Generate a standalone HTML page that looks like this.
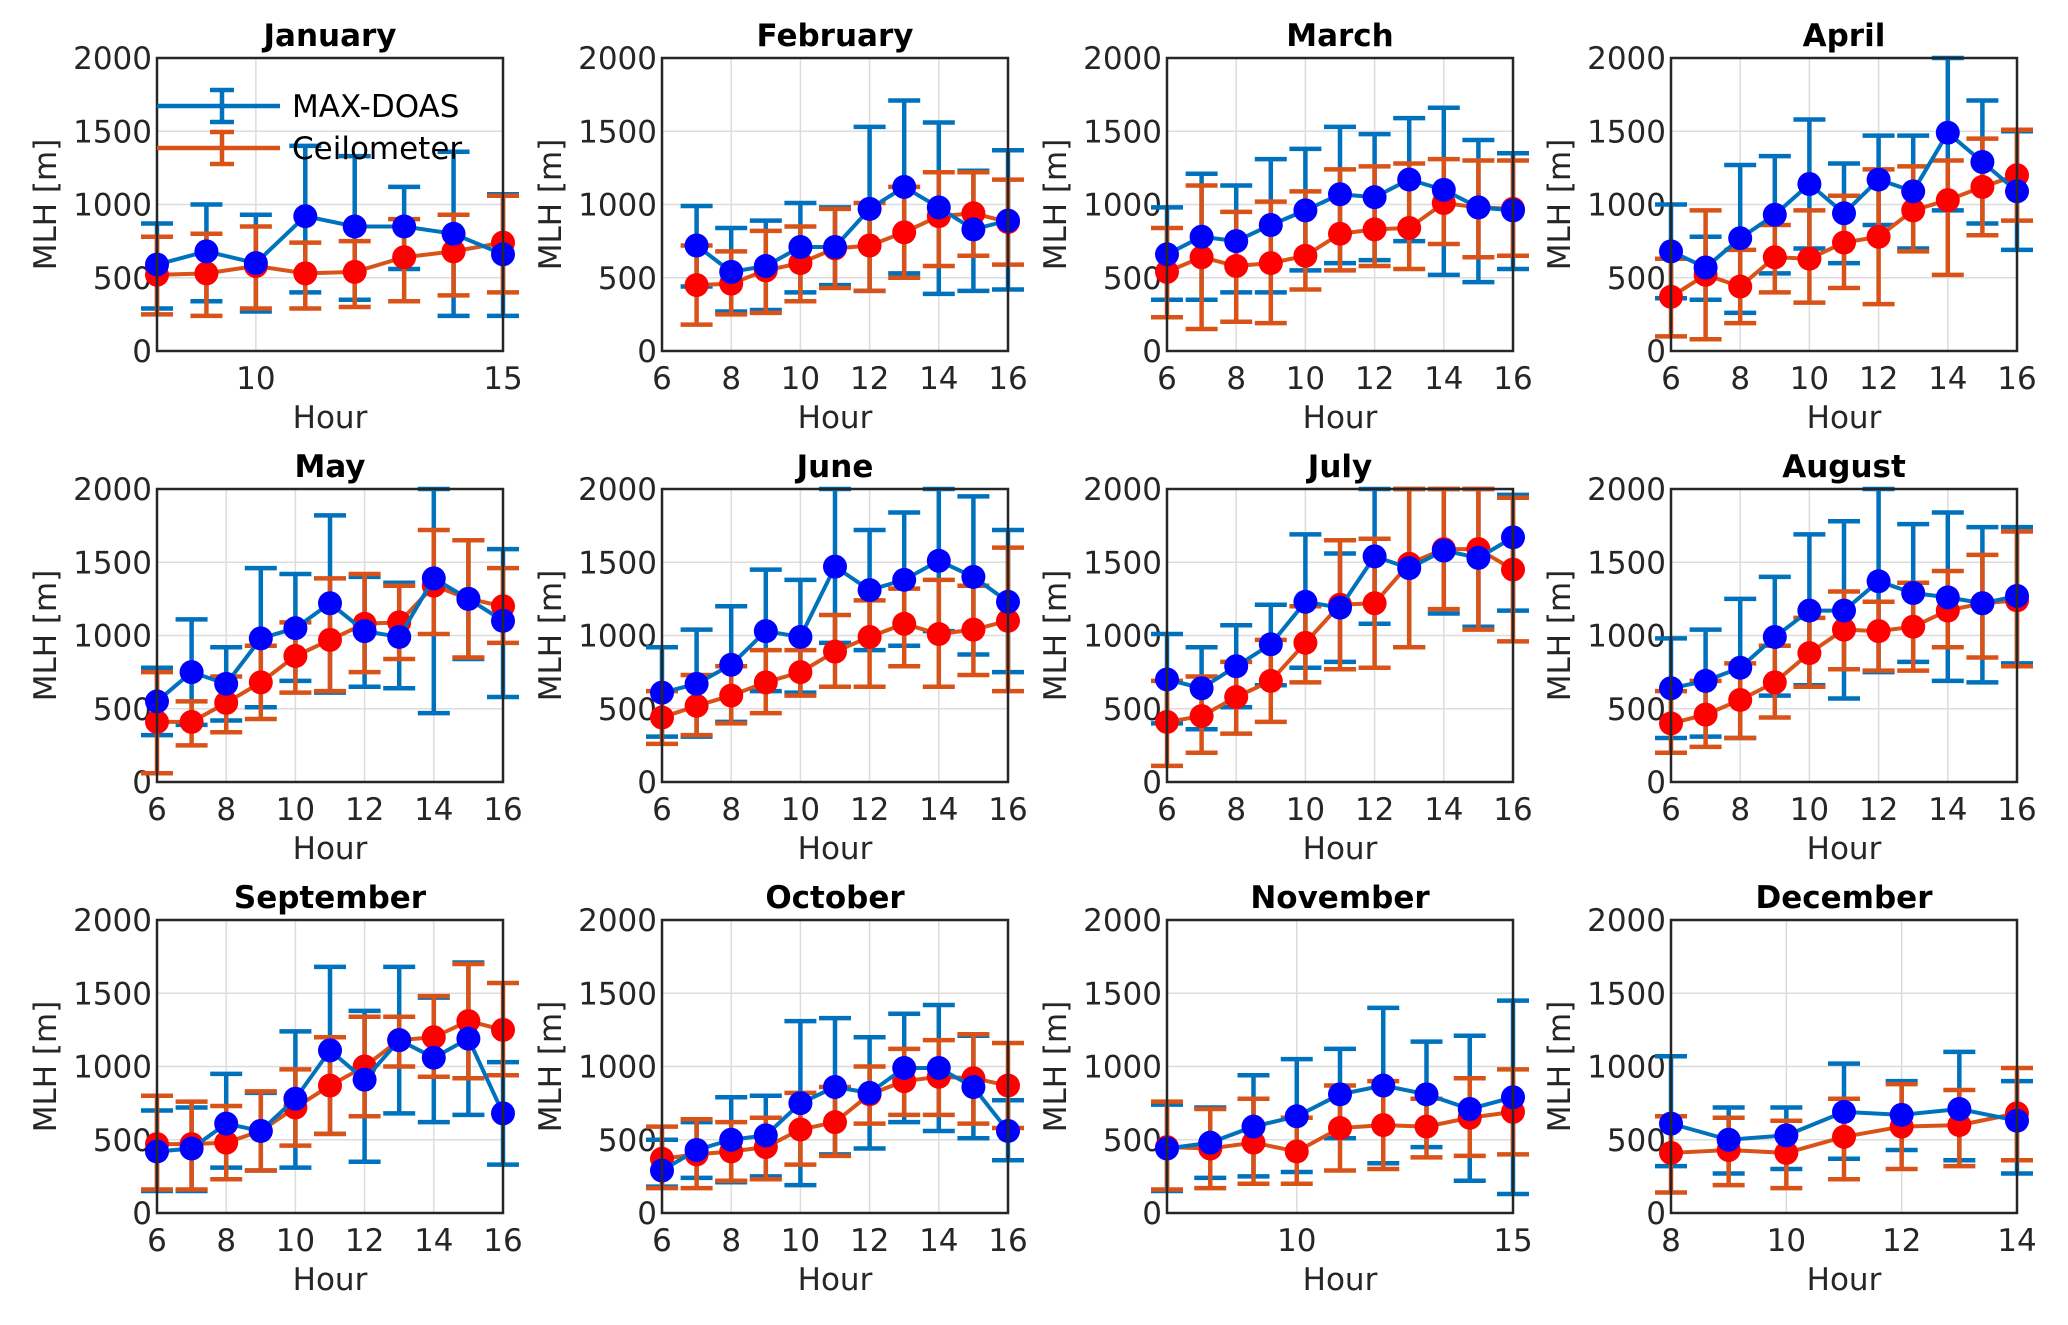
<!DOCTYPE html>
<html><head><meta charset="utf-8"><style>
html,body{margin:0;padding:0;background:#fff}
svg text{font-family:"DejaVu Sans","Liberation Sans",sans-serif;fill:#262626}
</style></head><body>
<svg id="fig" width="2068" height="1320" viewBox="0 0 2068 1320" xmlns="http://www.w3.org/2000/svg"></svg>
<script>
const months=["January","February","March","April","May","June","July","August","September","October","November","December"];
const xRanges=[[8,15],[6,16],[6,16],[6,16],[6,16],[6,16],[6,16],[6,16],[6,16],[6,16],[7,15],[8,14]];
const xTickSets=[[10,15],[6,8,10,12,14,16],[6,8,10,12,14,16],[6,8,10,12,14,16],[6,8,10,12,14,16],[6,8,10,12,14,16],[6,8,10,12,14,16],[6,8,10,12,14,16],[6,8,10,12,14,16],[6,8,10,12,14,16],[10,15],[8,10,12,14]];
const hourStart=[8,7,6,6,6,6,6,6,6,6,7,8];
const yTicks=[0,500,1000,1500,2000];
const maxVal=[[590,680,600,920,850,850,800,660],[720,540,580,710,710,970,1120,980,830,890],[660,780,750,860,960,1070,1050,1170,1100,980,960],[680,570,770,930,1140,940,1170,1090,1490,1290,1090],[550,750,670,980,1050,1220,1030,990,1390,1250,1100],[610,670,800,1030,990,1470,1310,1380,1510,1400,1230],[700,640,790,940,1230,1190,1540,1460,1580,1530,1670],[640,690,780,990,1170,1170,1370,1290,1260,1220,1270],[420,440,610,560,780,1110,910,1180,1060,1190,680],[290,430,500,530,750,860,820,990,990,860,560],[440,480,590,660,810,870,810,710,790],[610,500,530,690,670,710,630]];
const maxUp=[[870,1000,930,1400,1330,1120,1360,1070],[990,840,890,1010,980,1530,1710,1560,1230,1370],[980,1210,1130,1310,1380,1530,1480,1590,1660,1440,1350],[1000,780,1270,1330,1580,1280,1470,1470,2000,1710,1500],[780,1110,920,1460,1420,1820,1400,1360,2000,1650,1590],[920,1040,1200,1450,1380,2000,1720,1840,2000,1950,1720],[1010,920,1070,1210,1690,1560,2000,2000,2000,2000,1960],[980,1040,1250,1400,1690,1780,2000,1760,1840,1740,1740],[700,720,950,820,1240,1680,1380,1680,1470,1710,1030],[500,620,790,800,1310,1330,1200,1360,1420,1210,770],[740,720,940,1050,1120,1400,1170,1210,1450],[1070,720,720,1020,900,1100,900]];
const maxLow=[[290,340,270,400,350,560,240,240],[440,270,280,400,450,410,530,390,410,420],[350,350,400,400,550,600,620,750,520,470,560],[360,350,260,530,700,600,860,700,960,870,690],[320,390,420,510,690,610,650,640,470,840,580],[310,310,410,620,610,950,900,930,1030,870,750],[400,360,510,660,780,820,1080,920,1150,1060,1170],[300,310,300,590,660,570,750,820,690,680,810],[150,150,310,290,310,540,350,680,620,670,330],[180,240,210,250,190,400,440,620,560,510,360],[150,240,250,280,510,340,450,220,130],[320,270,300,370,430,360,270]];
const ceilVal=[[520,530,580,530,540,640,680,740],[450,460,550,600,700,720,810,920,940,880],[540,640,580,600,650,800,830,840,1010,980,970],[370,520,440,640,630,740,780,960,1030,1120,1200],[410,410,540,680,860,970,1080,1090,1340,1250,1200],[440,520,590,680,750,890,990,1080,1010,1040,1100],[410,450,580,690,950,1210,1220,1490,1590,1590,1450],[400,460,560,680,880,1040,1030,1060,1170,1220,1240],[470,470,480,560,720,870,1000,1180,1200,1310,1250],[370,400,420,450,570,620,810,900,930,920,870],[450,440,480,420,580,600,590,650,690],[410,430,410,520,590,600,680]];
const ceilUp=[[780,800,850,740,750,900,930,1060],[720,680,820,850,970,1010,1120,1220,1220,1170],[840,1130,950,1020,1090,1240,1260,1280,1310,1300,1300],[630,960,690,860,960,1060,1240,1260,1300,1450,1510],[750,550,720,930,1090,1390,1420,1340,1720,1650,1460],[620,730,790,900,900,1140,1240,1320,1380,1340,1600],[690,720,820,970,1200,1650,1660,2000,2000,2000,1940],[620,690,810,930,1120,1300,1230,1360,1440,1550,1710],[800,760,730,830,980,1200,1340,1340,1480,1700,1570],[590,640,620,650,820,860,1000,1120,1180,1220,1160],[760,710,780,650,870,900,780,920,980],[660,650,630,780,880,840,990]];
const ceilLow=[[250,240,290,290,300,340,380,400],[180,250,260,340,430,410,500,580,650,590],[230,150,200,190,420,550,580,560,730,640,650],[100,80,190,400,330,430,320,680,520,790,890],[60,250,340,430,610,620,750,840,1010,850,950],[260,320,400,470,590,650,650,790,650,730,620],[110,200,330,410,680,770,780,920,1180,1040,960],[200,240,300,440,650,770,760,760,920,850,790],[160,160,230,290,460,540,660,1000,930,920,940],[170,170,220,230,330,390,610,670,670,610,580],[160,170,200,200,290,300,380,390,400],[140,190,170,230,300,320,360]];

const NS="http://www.w3.org/2000/svg";
const svg=document.getElementById('fig');
const colL=[157,662,1167,1671], colW=346, rowT=[58,489,920], rowH=293;
function mk(tag,attrs,parent){const e=document.createElementNS(NS,tag);for(const k in attrs)e.setAttribute(k,attrs[k]);(parent||svg).appendChild(e);return e;}
months.forEach((m,i)=>{
  const L=colL[i%4], T=rowT[Math.floor(i/4)], R=L+colW, B=T+rowH;
  const [x0,x1]=xRanges[i];
  const xs=v=>L+(v-x0)/(x1-x0)*colW;
  const ys=v=>B-v/2000*rowH;
  const g=mk('g',{});
  
  
  mk('rect',{x:L,y:T,width:colW,height:rowH,fill:'#fff'},g);
  yTicks.forEach(v=>{
    const l=mk('line',{x1:L,x2:R,y1:ys(v),y2:ys(v),stroke:'#dcdcdc','stroke-width':1.5},g);
    
    
    const t=mk('text',{x:L-5,y:ys(v)+11,'text-anchor':'end','font-size':31},g);
    t.textContent=v;
    
    
  });
  xTickSets[i].forEach(v=>{
    const l=mk('line',{x1:xs(v),x2:xs(v),y1:T,y2:B,stroke:'#dcdcdc','stroke-width':1.5},g);
    
    
    const t=mk('text',{x:xs(v),y:B+38,'text-anchor':'middle','font-size':31},g);
    t.textContent=v;
    
    
  });
  const ttl=mk('text',{x:(L+R)/2,y:T-12,'text-anchor':'middle','font-size':31,'font-weight':'bold'},g);
  ttl.textContent=m;ttl.style.fill='#000';
  
  
  const xl=mk('text',{x:(L+R)/2,y:B+77,'text-anchor':'middle','font-size':31},g);
  xl.textContent='Hour';
  
  
  const yl=mk('text',{x:0,y:0,'text-anchor':'middle','font-size':31,transform:`translate(${L-101},${(T+B)/2}) rotate(-90)`},g);
  yl.textContent='MLH [m]';
  
  
  const series=[[maxVal[i],maxUp[i],maxLow[i],'#0072BD','#0000FF','max-doas'],[ceilVal[i],ceilUp[i],ceilLow[i],'#D95319','#FF0000','ceilometer']];
  const cl=mk('g',{},g);
  series.forEach(([vals,up,low,lc,mc,nm])=>{
    vals.forEach((v,k)=>{
      const h=hourStart[i]+k, x=xs(h);
      const e=mk('path',{d:`M${x},${ys(low[k])}V${ys(up[k])}M${x-16},${ys(low[k])}H${x+16}M${x-16},${ys(up[k])}H${x+16}`,stroke:lc,'stroke-width':4.5,fill:'none'},cl);
      
      
    });
  });
  series.slice().reverse().forEach(([vals,up,low,lc,mc,nm])=>{
    const pts=vals.map((v,k)=>xs(hourStart[i]+k)+','+ys(v)).join(' ');
    const pl=mk('polyline',{points:pts,fill:'none',stroke:lc,'stroke-width':4},cl);
    
    
    vals.forEach((v,k)=>{
      const c=mk('circle',{cx:xs(hourStart[i]+k),cy:ys(v),r:12,fill:mc},cl);
      
      
    });
  });
  const fr=mk('rect',{x:L,y:T,width:colW,height:rowH,fill:'none',stroke:'#262626','stroke-width':2.5},g);
  
  
});
const lg=mk('g',{});


[['MAX-DOAS','#0072BD',106],['Ceilometer','#D95319',148]].forEach(([t,c,y])=>{
  const p=mk('path',{d:`M157,${y}H280M222,${y-16}V${y+16}M210,${y-16}H234M210,${y+16}H234`,stroke:c,'stroke-width':4.5,fill:'none'},lg);
  
  
  const tx=mk('text',{x:292,y:y+11,'font-size':31},lg);
  tx.textContent=t;tx.style.fill='#000';
  
  
});
</script>
</body></html>
